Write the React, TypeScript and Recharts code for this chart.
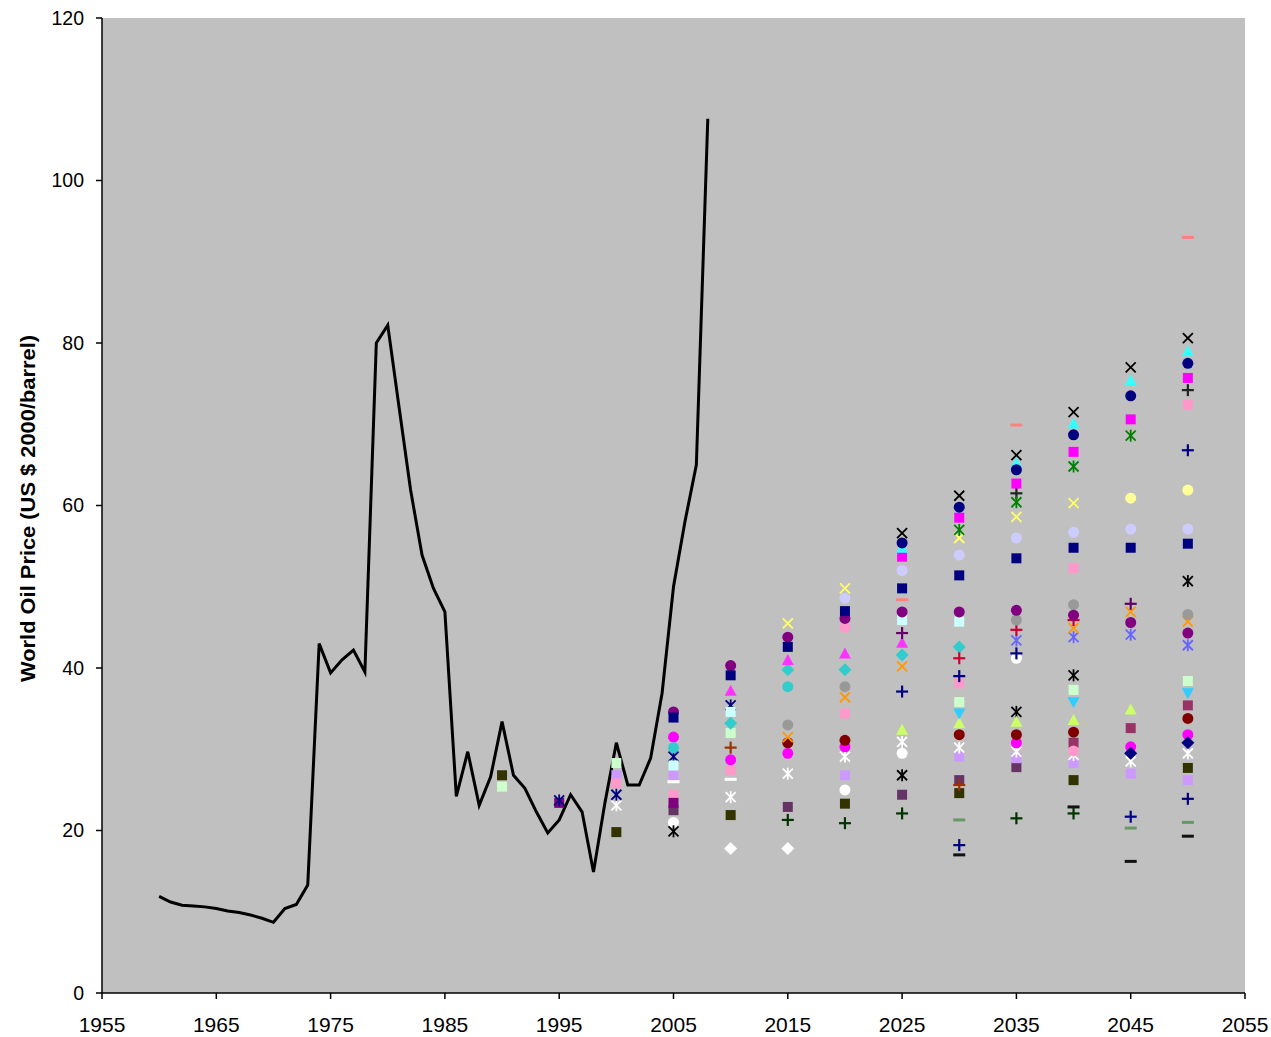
import React from 'react';
import { ScatterChart, Scatter, XAxis, YAxis, CartesianGrid, Label } from 'recharts';

// ---- axes ----
const xTicks = [1955, 1965, 1975, 1985, 1995, 2005, 2015, 2025, 2035, 2045, 2055];
const yTicks = [0, 20, 40, 60, 80, 100, 120];
const yTitle = 'World Oil Price (US $ 2000/barrel)';

// ---- historical price ----
const historyYears = [
  1960, 1961, 1962, 1963, 1964, 1965, 1966, 1967, 1968, 1969, 1970, 1971, 1972, 1973, 1974, 1975,
  1976, 1977, 1978, 1979, 1980, 1981, 1982, 1983, 1984, 1985, 1986, 1987, 1988, 1989, 1990, 1991,
  1992, 1993, 1994, 1995, 1996, 1997, 1998, 1999, 2000, 2001, 2002, 2003, 2004, 2005, 2006, 2007, 2008,
];
const historyPrices = [
  11.9, 11.2, 10.8, 10.7, 10.6, 10.4, 10.1, 9.9, 9.6, 9.2, 8.7, 10.4, 10.9, 13.3, 43.0, 39.4,
  41.0, 42.2, 39.5, 80.0, 82.2, 72.0, 61.9, 53.9, 49.8, 46.9, 24.2, 29.7, 23.1, 26.6, 33.4, 26.8,
  25.2, 22.3, 19.7, 21.3, 24.4, 22.3, 14.9, 23.4, 30.8, 25.6, 25.6, 28.9, 36.9, 50.0, 58.0, 65.0, 107.6,
];

// ---- forecast series: [year, price] ----
const blackX = [[2025, 56.6], [2030, 61.2], [2035, 66.2], [2040, 71.5], [2045, 77.0], [2050, 80.6]];
const navyCircle = [[2025, 55.4], [2030, 59.8], [2035, 64.4], [2040, 68.7], [2045, 73.5], [2050, 77.5]];
const cyanTriangle = [[2025, 54.8], [2035, 65.2], [2040, 70.1], [2045, 75.4], [2050, 79.0]];
const magentaSquare = [[2025, 53.7], [2030, 58.5], [2035, 62.7], [2040, 66.6], [2045, 70.6], [2050, 75.7]];
const greenStar = [[2030, 57.0], [2035, 60.4], [2040, 64.8], [2045, 68.6]];
const blackPlus = [[2035, 61.5], [2050, 74.2]];
const purplePlus = [[2025, 44.3], [2045, 47.9]];
const yellowX = [[2015, 45.5], [2020, 49.8], [2030, 56.0], [2035, 58.6], [2040, 60.3]];
const ivoryCircle = [[2045, 60.9], [2050, 61.9]];
const iceCircle = [[2020, 48.6], [2025, 52.0], [2030, 53.9], [2035, 56.0], [2040, 56.7], [2045, 57.1], [2050, 57.1]];
const navySquare = [[2005, 33.9], [2010, 39.1], [2015, 42.6], [2020, 47.0], [2025, 49.8], [2030, 51.4], [2035, 53.5], [2040, 54.8], [2045, 54.8], [2050, 55.3]];
const coralDash = [[2025, 48.4], [2035, 69.9], [2050, 93.0]];
const purpleCircle = [[2005, 34.6], [2010, 40.3], [2015, 43.8], [2020, 46.1], [2025, 46.9], [2030, 46.9], [2035, 47.1], [2040, 46.5], [2045, 45.6], [2050, 44.3]];
const grayCircle = [[2015, 33.0], [2020, 37.7], [2035, 45.9], [2040, 47.8], [2050, 46.6]];
const redPlus = [[2030, 41.2], [2035, 44.7], [2040, 45.9]];
const orangeX = [[2015, 31.5], [2020, 36.4], [2025, 40.2], [2040, 44.9], [2045, 46.9], [2050, 45.7]];
const periwinkleX = [[2035, 43.4], [2040, 43.8], [2045, 44.1], [2050, 42.8]];
const navyPlus = [[2025, 37.1], [2030, 39.0], [2030, 18.2], [2035, 41.8], [2045, 21.7], [2050, 66.8], [2050, 23.9]];
const magentaTriangle = [[2010, 37.2], [2015, 41.0], [2020, 41.8], [2025, 43.1]];
const turquoiseDiamond = [[2010, 33.2], [2015, 39.8], [2020, 39.8], [2025, 41.6], [2030, 42.6]];
const turquoiseCircle = [[2015, 37.7], [2005, 30.2]];
const lightGreenSquare = [[1990, 25.4], [2000, 28.3], [2010, 32.0], [2030, 35.8], [2040, 37.3], [2050, 38.4]];
const skyTriangleDown = [[2030, 34.4], [2040, 35.8], [2050, 36.9]];
const limeTriangle = [[2025, 32.4], [2030, 33.2], [2035, 33.4], [2040, 33.6], [2045, 34.9]];
const maroonCircle = [[2015, 30.8], [2020, 31.1], [2030, 31.8], [2035, 31.8], [2040, 32.1], [2050, 33.8]];
const plumSquare = [[2040, 30.8], [2045, 32.6], [2050, 35.4]];
const magentaCircle = [[2005, 31.5], [2010, 28.7], [2015, 29.5], [2020, 30.3], [2035, 30.8], [2045, 30.3], [2050, 31.8]];
const whiteStar = [[2000, 23.1], [2010, 24.1], [2015, 27.0], [2020, 29.1], [2025, 30.9], [2030, 30.2], [2035, 29.7], [2040, 29.3], [2045, 28.5], [2050, 29.5]];
const lavenderSquare = [[2000, 26.8], [2005, 26.8], [2020, 26.8], [2030, 29.1], [2035, 28.9], [2040, 28.3], [2045, 27.0], [2050, 26.2]];
const whiteCircle = [[2005, 21.0], [2020, 25.0], [2025, 29.5], [2035, 41.2]];
const whiteDiamond = [[2010, 17.8], [2015, 17.8]];
const oliveSquare = [[1990, 26.8], [2000, 19.8], [2010, 21.9], [2020, 23.3], [2030, 24.6], [2040, 26.2], [2050, 27.7]];
const mauveSquare = [[2005, 22.5], [2015, 22.9], [2025, 24.4], [2030, 26.2], [2035, 27.8]];
const darkGreenPlus = [[2015, 21.3], [2020, 20.9], [2025, 22.1], [2035, 21.5], [2040, 22.1]];
const blackDash = [[2030, 17.0], [2040, 22.9], [2045, 16.2], [2050, 19.3]];
const seaGreenDash = [[2030, 21.3], [2045, 20.3], [2050, 21.0]];
const blackStar = [[2005, 19.9], [2025, 26.8], [2035, 34.6], [2040, 39.1], [2050, 50.7]];
const navyStar = [[1995, 23.7], [2000, 24.4], [2005, 29.1], [2010, 35.4]];
const roseSquare = [[2000, 25.8], [2005, 24.4], [2010, 27.4], [2020, 34.4], [2030, 38.1], [2040, 52.3], [2050, 72.4]];
const navyDiamond = [[2045, 29.5], [2050, 30.8]];
const paleCyanSquare = [[2005, 28.0], [2010, 34.6], [2025, 45.9], [2030, 45.7]];
const purpleSquare = [[1995, 23.4], [2005, 23.4]];
const roseCircle = [[2020, 45.0], [2040, 29.8]];
const brownPlus = [[2010, 30.2], [2030, 25.6]];
const paleDash = [[2005, 26.0], [2010, 26.3]];

const toPoints = (arr: number[][]) => arr.map(([year, value]) => ({ year, value }));
const history = historyYears.map((year, i) => ({ year, value: historyPrices[i] }));

const series = [
  { data: lightGreenSquare, color: '#CCFFCC', kind: 'square' },
  { data: oliveSquare, color: '#333300', kind: 'square' },
  { data: whiteDiamond, color: '#FFFFFF', kind: 'diamond' },
  { data: blackDash, color: '#111111', kind: 'dash' },
  { data: seaGreenDash, color: '#669966', kind: 'dash' },
  { data: darkGreenPlus, color: '#003300', kind: 'plus' },
  { data: mauveSquare, color: '#663366', kind: 'square' },
  { data: whiteCircle, color: '#FFFFFF', kind: 'circle' },
  { data: blackStar, color: '#000000', kind: 'star' },
  { data: lavenderSquare, color: '#CC99FF', kind: 'square' },
  { data: roseSquare, color: '#FF99CC', kind: 'square' },
  { data: whiteStar, color: '#FFFFFF', kind: 'star' },
  { data: paleDash, color: '#FFFFFF', kind: 'dash' },
  { data: purpleSquare, color: '#800080', kind: 'square' },
  { data: magentaCircle, color: '#FF00FF', kind: 'circle' },
  { data: brownPlus, color: '#993300', kind: 'plus' },
  { data: maroonCircle, color: '#800000', kind: 'circle' },
  { data: plumSquare, color: '#993366', kind: 'square' },
  { data: navyDiamond, color: '#000080', kind: 'diamond' },
  { data: limeTriangle, color: '#CCFF66', kind: 'triangle' },
  { data: skyTriangleDown, color: '#33CCFF', kind: 'triangleDown' },
  { data: navyStar, color: '#000080', kind: 'star' },
  { data: paleCyanSquare, color: '#CCFFFF', kind: 'square' },
  { data: turquoiseCircle, color: '#33CCCC', kind: 'circle' },
  { data: turquoiseDiamond, color: '#33CCCC', kind: 'diamond' },
  { data: magentaTriangle, color: '#FF33FF', kind: 'triangle' },
  { data: navyPlus, color: '#000080', kind: 'plus' },
  { data: periwinkleX, color: '#6666FF', kind: 'star' },
  { data: orangeX, color: '#FF9900', kind: 'x' },
  { data: redPlus, color: '#CC0033', kind: 'plus' },
  { data: grayCircle, color: '#999999', kind: 'circle' },
  { data: roseCircle, color: '#FF99CC', kind: 'circle' },
  { data: purpleCircle, color: '#800080', kind: 'circle' },
  { data: coralDash, color: '#FF8080', kind: 'dash' },
  { data: navySquare, color: '#000080', kind: 'square' },
  { data: iceCircle, color: '#CCCCFF', kind: 'circle' },
  { data: ivoryCircle, color: '#FFFF99', kind: 'circle' },
  { data: yellowX, color: '#FFFF66', kind: 'x' },
  { data: purplePlus, color: '#660066', kind: 'plus' },
  { data: blackPlus, color: '#222222', kind: 'plus' },
  { data: greenStar, color: '#008000', kind: 'star' },
  { data: magentaSquare, color: '#FF00FF', kind: 'square' },
  { data: cyanTriangle, color: '#33FFFF', kind: 'triangle' },
  { data: navyCircle, color: '#000080', kind: 'circle' },
  { data: blackX, color: '#000000', kind: 'x' },
];

function Marker({ cx, cy, color, kind }: { cx?: number; cy?: number; color: string; kind: string }) {
  if (cx == null || cy == null || isNaN(cx) || isNaN(cy)) return <g />;
  const r = 5;
  switch (kind) {
    case 'circle':
      return <circle cx={cx} cy={cy} r={r + 0.5} fill={color} />;
    case 'square':
      return <rect x={cx - r} y={cy - r} width={2 * r} height={2 * r} fill={color} />;
    case 'diamond':
      return (
        <polygon
          points={`${cx},${cy - r - 1.5} ${cx + r + 1.5},${cy} ${cx},${cy + r + 1.5} ${cx - r - 1.5},${cy}`}
          fill={color}
        />
      );
    case 'triangle':
      return <polygon points={`${cx},${cy - r - 1} ${cx + r + 1},${cy + r} ${cx - r - 1},${cy + r}`} fill={color} />;
    case 'triangleDown':
      return <polygon points={`${cx},${cy + r + 1} ${cx + r + 1},${cy - r} ${cx - r - 1},${cy - r}`} fill={color} />;
    case 'x':
      return (
        <g stroke={color} strokeWidth={1.8}>
          <line x1={cx - r} y1={cy - r} x2={cx + r} y2={cy + r} />
          <line x1={cx - r} y1={cy + r} x2={cx + r} y2={cy - r} />
        </g>
      );
    case 'star':
      return (
        <g stroke={color} strokeWidth={1.8}>
          <line x1={cx - r} y1={cy - r} x2={cx + r} y2={cy + r} />
          <line x1={cx - r} y1={cy + r} x2={cx + r} y2={cy - r} />
          <line x1={cx} y1={cy - r - 1} x2={cx} y2={cy + r + 1} />
        </g>
      );
    case 'plus':
      return (
        <g stroke={color} strokeWidth={2.2}>
          <line x1={cx - r - 1} y1={cy} x2={cx + r + 1} y2={cy} />
          <line x1={cx} y1={cy - r - 1} x2={cx} y2={cy + r + 1} />
        </g>
      );
    case 'dash':
      return <rect x={cx - 6} y={cy - 1.5} width={12} height={3} fill={color} />;
    default:
      return <g />;
  }
}

const fontFamily = '"Liberation Sans", Arial, sans-serif';
const xTickStyle = { fill: '#000', fontSize: 21, fontFamily };
const yTickStyle = { fill: '#000', fontSize: 19.5, fontFamily };

export default function App() {
  return (
    <div style={{ position: 'absolute', left: 0, top: 0, width: 1271, height: 1037, overflow: 'hidden' }}>
      <ScatterChart width={1271} height={1037} margin={{ top: 18, right: 26, bottom: 0, left: 0 }}>
        <CartesianGrid horizontal={false} vertical={false} fill="#C0C0C0" stroke="none" />
        <XAxis
          type="number"
          dataKey="year"
          domain={[1955, 2055]}
          ticks={xTicks}
          interval={0}
          allowDataOverflow
          height={44}
          tickSize={6}
          tickMargin={18}
          tick={xTickStyle}
          axisLine={{ stroke: '#000', strokeWidth: 1.5 }}
          tickLine={{ stroke: '#000', strokeWidth: 1.5 }}
        />
        <YAxis
          type="number"
          dataKey="value"
          domain={[0, 120]}
          ticks={yTicks}
          interval={0}
          allowDataOverflow
          width={102}
          tickSize={6}
          tickMargin={12}
          tick={yTickStyle}
          axisLine={{ stroke: '#000', strokeWidth: 1.5 }}
          tickLine={{ stroke: '#000', strokeWidth: 1.5 }}
        >
          <Label
            content={(props: any) => {
              const vb = props.viewBox || { x: 0, y: 18, width: 102, height: 975 };
              const x = vb.x + 27;
              const y = vb.y + vb.height / 2 + 3;
              return (
                <text
                  x={x}
                  y={y}
                  transform={`rotate(-90 ${x} ${y})`}
                  textAnchor="middle"
                  dominantBaseline="central"
                  textLength={347}
                  lengthAdjust="spacingAndGlyphs"
                  style={{ fontFamily, fontSize: 21, fontWeight: 'bold', fill: '#000' }}
                >
                  {yTitle}
                </text>
              );
            }}
          />
        </YAxis>
        <Scatter
          data={history}
          line={{ stroke: '#000', strokeWidth: 3 }}
          lineType="joint"
          shape={() => <g />}
          isAnimationActive={false}
        />
        {series.map((s, i) => (
          <Scatter
            key={i}
            data={toPoints(s.data)}
            fill={s.color}
            isAnimationActive={false}
            shape={(p: any) => <Marker cx={p.cx} cy={p.cy} color={s.color} kind={s.kind} />}
          />
        ))}
      </ScatterChart>
    </div>
  );
}
